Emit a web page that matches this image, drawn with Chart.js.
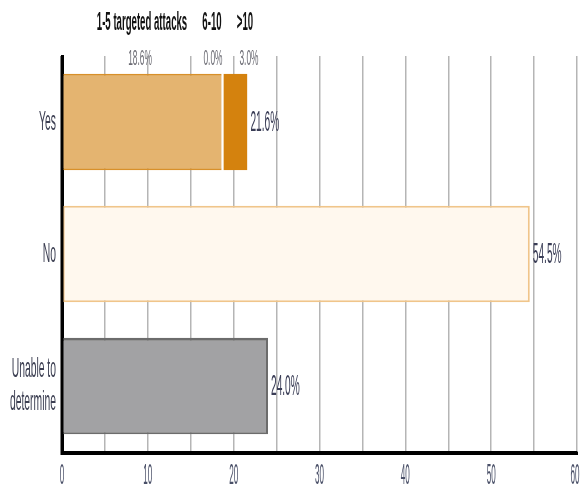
<!DOCTYPE html>
<html>
<head>
<meta charset="utf-8">
<script src="https://cdn.jsdelivr.net/npm/chart.js@4/dist/chart.umd.min.js"></script>
<style>
  html, body { margin: 0; padding: 0; background: #fff; }
  canvas { display: block; }
</style>
</head>
<body>
<canvas id="attacksChart" width="580" height="490"></canvas>
<script>
// Categories and values
const categories = ['Yes', 'No', ['Unable to', 'determine']];
const totals = [21.6, 54.5, 24.0];

// Breakdown of the "Yes" bar by number of targeted attacks
const breakdownLabels = ['1-5 targeted attacks', '6-10', '>10'];
const oneToFive = [18.6, null, null];
const sixToTen = [0.0, null, null];
const overTen = [3.0, null, null];

const noValues = [null, 54.5, null];
const unableValues = [null, null, 24.0];

const xTickLabels = [0, 10, 20, 30, 40, 50, 60];

const FONT = '"Liberation Sans Narrow", "Liberation Sans", sans-serif';

// Narrow, tall text: squeeze horizontally
function drawText(ctx, str, x, y, size, sx, color, align, weight) {
    ctx.save();
    ctx.font = `${weight || 'normal'} ${size}px ${FONT}`;
    ctx.fillStyle = color;
    ctx.textAlign = align || 'left';
    ctx.textBaseline = 'middle';
    ctx.translate(x, y);
    ctx.scale(sx, 1);
    ctx.fillText(str, 0, 0);
    ctx.restore();
}

const labelPlugin = {
    id: 'labelPlugin',
    afterDatasetsDraw(chart) {
        const { ctx, chartArea, scales, width } = chart;
        const xScale = scales.x;
        const yScale = scales.y;

        // axis lines over the bars
        ctx.save();
        ctx.strokeStyle = '#000';
        ctx.lineWidth = 3;
        ctx.beginPath();
        ctx.moveTo(chartArea.left, chartArea.top);
        ctx.lineTo(chartArea.left, chartArea.bottom + 1.5);
        ctx.lineTo(chartArea.right + 1, chartArea.bottom + 1.5);
        ctx.stroke();
        ctx.restore();

        // category labels
        categories.forEach((label, i) => {
            const lines = Array.isArray(label) ? label : [label];
            const y = yScale.getPixelForValue(i);
            const lh = 33;
            const start = y - (lines.length - 1) * lh / 2;
            lines.forEach((line, j) => {
                drawText(ctx, line, chartArea.left - 6, start + j * lh, 28, 0.37, '#3c3f52', 'right');
            });
        });

        // value labels at the end of each bar
        totals.forEach((v, i) => {
            const x = xScale.getPixelForValue(v) + 3;
            const y = yScale.getPixelForValue(i) + 1;
            drawText(ctx, v.toFixed(1) + '%', x, y, 29, 0.35, '#3a3d56', 'left');
        });

        // x tick labels (last one kept inside the canvas)
        xTickLabels.forEach(v => {
            const x = Math.min(xScale.getPixelForValue(v), width - 5);
            drawText(ctx, String(v), x, chartArea.bottom + 24, 30, 0.27, '#4a5068', 'center');
        });

        // breakdown header above the "Yes" bar
        const headerX = [142, 212, 245];
        const breakdownValues = [oneToFive[0], sixToTen[0], overTen[0]];
        breakdownLabels.forEach((t, i) => {
            drawText(ctx, t, headerX[i], 23, 26, 0.37, '#111', 'center', 'bold');
        });
        const pctX = [140, 213, 249];
        breakdownValues.forEach((v, i) => {
            drawText(ctx, v.toFixed(1) + '%', pctX[i], 59, 22, 0.38, '#6c6c74', 'center');
        });
    }
};

new Chart(document.getElementById('attacksChart'), {
    type: 'bar',
    data: {
        labels: categories,
        datasets: [
            {
                label: breakdownLabels[0],
                data: oneToFive,
                backgroundColor: '#e4b470',
                borderColor: '#d8902a',
                borderWidth: { top: 2, bottom: 2, left: 0, right: 0 }
            },
            {
                label: breakdownLabels[1],
                data: sixToTen,
                backgroundColor: '#ffffff',
                borderWidth: 0
            },
            {
                label: breakdownLabels[2],
                data: overTen,
                backgroundColor: '#d4820e',
                borderColor: '#ffffff',
                borderWidth: { top: 0, bottom: 0, left: 2, right: 0 }
            },
            {
                label: 'No',
                data: noValues,
                backgroundColor: '#fff8ee',
                borderColor: '#f0c58a',
                borderWidth: 2
            },
            {
                label: 'Unable to determine',
                data: unableValues,
                backgroundColor: '#a2a2a4',
                borderColor: '#6c6c6c',
                borderWidth: { top: 3, right: 2, bottom: 2, left: 0 }
            }
        ]
    },
    options: {
        indexAxis: 'y',
        responsive: false,
        animation: false,
        layout: { padding: { top: 56, right: 3, left: 0, bottom: 0 } },
        datasets: {
            bar: { barPercentage: 0.73, categoryPercentage: 1, borderSkipped: false }
        },
        plugins: {
            legend: { display: false },
            tooltip: { enabled: false }
        },
        scales: {
            x: {
                stacked: true,
                min: 0,
                max: 60,
                ticks: { stepSize: 5, display: false },
                grid: { color: '#b5b5b5', lineWidth: 1.5, drawTicks: false },
                border: { color: '#000', width: 3 },
                afterFit(scale) { scale.height = 38; }
            },
            y: {
                stacked: true,
                ticks: { display: false },
                grid: { display: false },
                border: { color: '#000', width: 3 },
                afterFit(scale) { scale.width = 62; }
            }
        }
    },
    plugins: [labelPlugin]
});
</script>
</body>
</html>
